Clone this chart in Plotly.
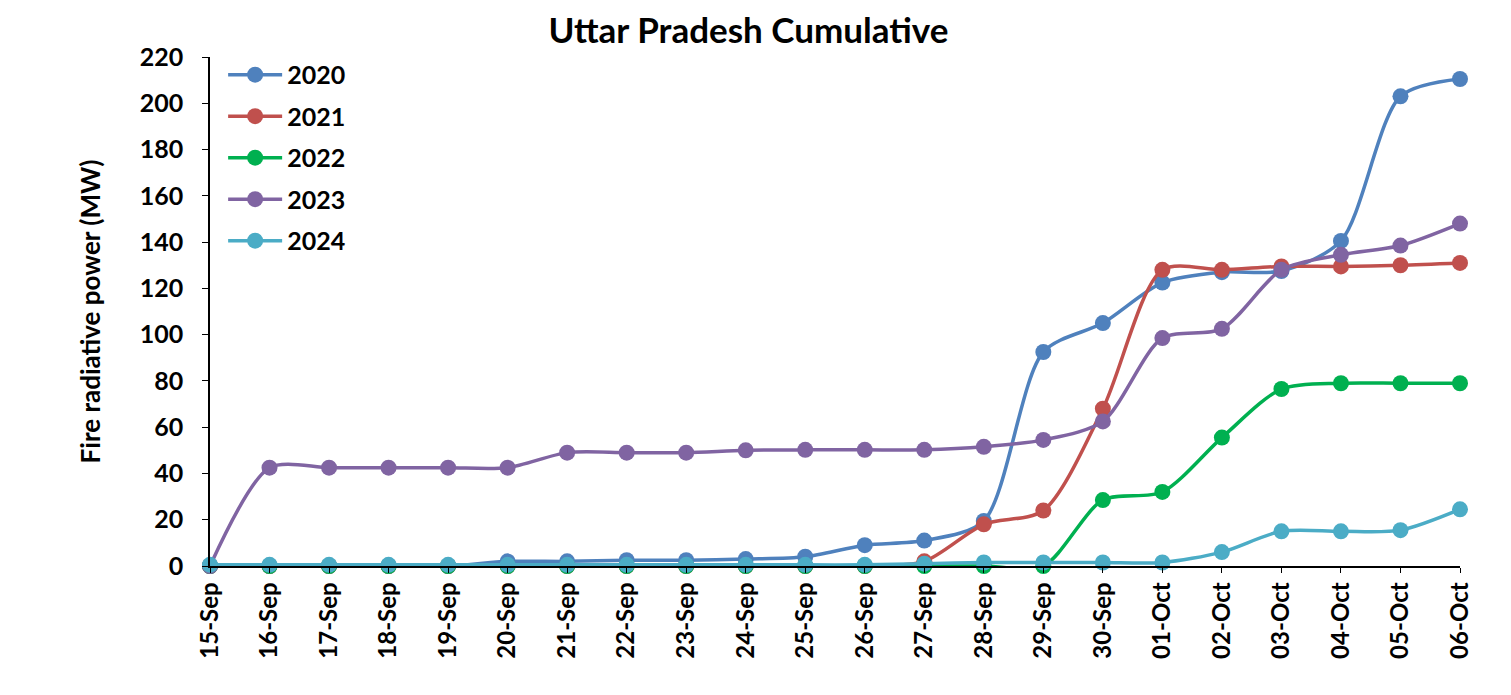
import plotly.graph_objects as go

dates = ['15-Sep', '16-Sep', '17-Sep', '18-Sep', '19-Sep', '20-Sep', '21-Sep', '22-Sep',
         '23-Sep', '24-Sep', '25-Sep', '26-Sep', '27-Sep', '28-Sep', '29-Sep', '30-Sep',
         '01-Oct', '02-Oct', '03-Oct', '04-Oct', '05-Oct', '06-Oct']

y2020 = [0, 0, 0, 0, 0, 2, 2, 2.5, 2.5, 3, 4, 9, 11, 19.5, 92.5, 105,
         122.5, 127, 127.5, 140.5, 203, 210.5]
y2021 = [0, 0, 0, 0, 0, 0, 0, 0, 0, 0, 0, 0, 2, 18, 24, 68,
         128, 128, 129.5, 129.5, 130, 131]
y2022 = [0, 0, 0, 0, 0, 0, 0, 0, 0, 0, 0, 0, 0, 0, 0, 28.5,
         32, 55.5, 76.5, 79, 79, 79]
y2023 = [0, 42.5, 42.5, 42.5, 42.5, 42.5, 49, 49, 49, 50, 50.2, 50.2, 50.2, 51.5, 54.5, 62.5,
         98.5, 102.5, 128, 134.5, 138.5, 148]
y2024 = [0.5, 0.5, 0.5, 0.5, 0.5, 0.5, 0.5, 0.5, 0.5, 0.5, 0.5, 0.5, 1, 1.5, 1.5, 1.5,
         1.5, 6, 15, 15, 15.5, 24.5]

series = [('2020', y2020, '#4F81BD'), ('2021', y2021, '#C0504D'), ('2022', y2022, '#00B050'),
          ('2023', y2023, '#8064A2'), ('2024', y2024, '#4BACC6')]

fnt = 'Lato, Calibri, Arial, sans-serif'

fig = go.Figure()
for name, vals, col in series:
    fig.add_trace(go.Scatter(x=dates, y=vals, name='<b>' + name + '</b>', legendgroup=name,
                             mode='lines+markers',
                             line=dict(color=col, width=3.5, shape='spline', smoothing=0.8),
                             marker=dict(color=col, size=16), cliponaxis=False))

# page body adds ~8px offset, margins compensate for it
fig.update_layout(
    width=1511, height=695,
    plot_bgcolor='white', paper_bgcolor='white',
    margin=dict(l=202, r=59, t=49, b=137),
    title=dict(text='<b>Uttar Pradesh Cumulative</b>', x=0.49, xref='container',
               y=0.968, yref='container', xanchor='center', yanchor='middle',
               font=dict(family=fnt, size=35, color='black')),
    legend=dict(x=0.0105, y=1.01, xanchor='left', yanchor='top', itemwidth=54,
                font=dict(family=fnt, size=25, color='black'),
                bgcolor='rgba(0,0,0,0)', tracegroupgap=6, itemsizing='trace'),
    font=dict(family=fnt, color='black'),
)
fig.update_xaxes(type='category', range=[0, 21], showline=True, linecolor='black', linewidth=1.5,
                 ticks='outside', ticklen=5, tickcolor='black', tickangle=-90,
                 tickfont=dict(family=fnt, size=24, color='black'), showgrid=False,
                 tickprefix='<b>', ticksuffix='</b>')
fig.update_yaxes(range=[0, 220], dtick=20, showline=True, linecolor='black', linewidth=1.5,
                 ticks='outside', ticklen=6, tickcolor='black', showgrid=False, zeroline=False,
                 tickfont=dict(family=fnt, size=25, color='black'), ticklabelstandoff=14,
                 tickprefix='<b>', ticksuffix='</b>',
                 title=dict(text='<b>Fire radiative power (MW)</b>', standoff=32,
                            font=dict(family=fnt, size=26, color='black')))

fig.write_html('out.html')
